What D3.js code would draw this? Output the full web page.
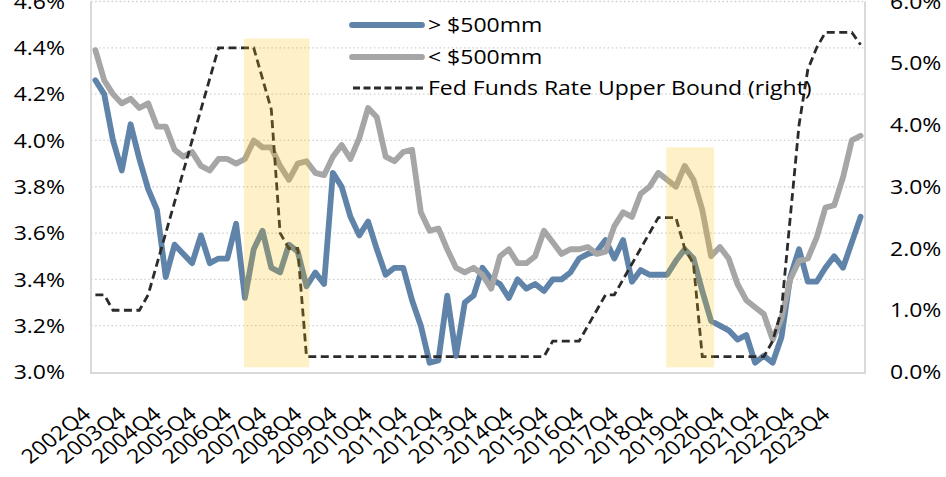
<!DOCTYPE html>
<html>
<head>
<meta charset="utf-8">
<script src="https://cdn.jsdelivr.net/npm/d3@7"></script>
<style>
  body { margin: 0; background: #fff; }
  svg { display: block; font-family: "Open Sans", "Noto Sans", sans-serif; }
</style>
</head>
<body>
<svg id="chart" width="946" height="477"></svg>
<script>
// quarters 2002Q4 .. 2024Q3
var quarters = d3.range(88).map(function(i) {
  var q = (3 + i) % 4 + 1;
  var yr = 2002 + Math.floor((3 + i) / 4);
  return yr + "Q" + q;
});

var big = [4.26, 4.20, 4.00, 3.87, 4.07, 3.92, 3.79, 3.70, 3.41, 3.55,
  3.51, 3.47, 3.59, 3.47, 3.49, 3.49, 3.64, 3.32, 3.53, 3.61,
  3.45, 3.43, 3.55, 3.52, 3.37, 3.43, 3.38, 3.86, 3.80, 3.67,
  3.59, 3.65, 3.53, 3.42, 3.45, 3.45, 3.31, 3.20, 3.04, 3.05,
  3.33, 3.07, 3.30, 3.33, 3.45, 3.40, 3.38, 3.32, 3.40, 3.36,
  3.38, 3.35, 3.40, 3.40, 3.43, 3.49, 3.51, 3.52, 3.57, 3.49,
  3.57, 3.39, 3.44, 3.42, 3.42, 3.42, 3.48, 3.53, 3.49, 3.35,
  3.22, 3.20, 3.18, 3.14, 3.16, 3.04, 3.07, 3.04, 3.15, 3.41,
  3.53, 3.39, 3.39, 3.45, 3.50, 3.45, 3.56, 3.67];

var small = [4.39, 4.26, 4.20, 4.16, 4.18, 4.14, 4.16, 4.06, 4.06, 3.96,
  3.93, 3.95, 3.89, 3.87, 3.92, 3.92, 3.90, 3.92, 4.00, 3.97,
  3.97, 3.89, 3.83, 3.90, 3.91, 3.86, 3.85, 3.93, 3.98, 3.92,
  4.01, 4.14, 4.10, 3.93, 3.91, 3.95, 3.96, 3.69, 3.61, 3.62,
  3.53, 3.45, 3.43, 3.45, 3.42, 3.36, 3.50, 3.53, 3.47, 3.47,
  3.50, 3.61, 3.56, 3.51, 3.53, 3.53, 3.54, 3.51, 3.52, 3.63,
  3.69, 3.67, 3.77, 3.80, 3.86, 3.83, 3.80, 3.89, 3.83, 3.70,
  3.50, 3.54, 3.49, 3.38, 3.31, 3.28, 3.25, 3.14, 3.23, 3.40,
  3.48, 3.49, 3.58, 3.71, 3.72, 3.84, 4.00, 4.02];

var fed = [1.25, 1.25, 1.0, 1.0, 1.0, 1.0, 1.25, 1.75, 2.25, 2.75,
  3.25, 3.75, 4.25, 4.75, 5.25, 5.25, 5.25, 5.25, 5.25, 4.75,
  4.25, 2.25, 2.0, 2.0, 0.25, 0.25, 0.25, 0.25, 0.25, 0.25,
  0.25, 0.25, 0.25, 0.25, 0.25, 0.25, 0.25, 0.25, 0.25, 0.25,
  0.25, 0.25, 0.25, 0.25, 0.25, 0.25, 0.25, 0.25, 0.25, 0.25,
  0.25, 0.25, 0.5, 0.5, 0.5, 0.5, 0.75, 1.0, 1.25, 1.25,
  1.5, 1.75, 2.0, 2.25, 2.5, 2.5, 2.5, 2.0, 1.75, 0.25,
  0.25, 0.25, 0.25, 0.25, 0.25, 0.25, 0.25, 0.5, 1.0, 2.5,
  4.0, 4.9, 5.25, 5.5, 5.5, 5.5, 5.5, 5.3];

// recession shading
var recStart = ["2007Q1", "2019Q1"];
var recEnd = ["2008Q4", "2020Q2"];
var recTop = [4.44, 3.97];

var leftTicks = [3.0, 3.2, 3.4, 3.6, 3.8, 4.0, 4.2, 4.4, 4.6];
var rightTicks = [0, 1, 2, 3, 4, 5, 6];
var xLabels = quarters.filter(function(q) { return q.slice(-2) == "Q4"; });

var legendNames = ["> $500mm", "< $500mm", "Fed Funds Rate Upper Bound (right)"];

var SX = 1.15; // text is a bit wide in the original
var svg = d3.select("#chart");
var L = 91, R = 865, T = 1.5, B = 372;

var x = d3.scalePoint().domain(quarters).range([L, R]).padding(0.5);
var yL = d3.scaleLinear().domain([3.0, 4.6]).range([B, T]);
var yR = d3.scaleLinear().domain([0, 6]).range([B, T]);

// grid
svg.append("g").selectAll("line").data(leftTicks.slice(1)).enter()
  .append("line")
  .attr("x1", L).attr("x2", R)
  .attr("y1", function(d) { return yL(d); })
  .attr("y2", function(d) { return yL(d); })
  .attr("stroke", "#cfcfcf").attr("stroke-width", 1.3)
  .attr("stroke-dasharray", "1.5,2.6");

// frame
svg.append("path")
  .attr("d", "M" + L + "," + T + "V" + (B + 1) + "H" + R + "V" + T)
  .attr("fill", "none").attr("stroke", "#d9d9d9").attr("stroke-width", 2);

var lineL = function(arr) {
  return d3.line().x(function(d, i) { return x(quarters[i]); })
    .y(function(d) { return yL(d); })(arr);
};

svg.append("path").attr("d", lineL(big))
  .attr("fill", "none").attr("stroke", "#6083AA").attr("stroke-width", 5.8)
  .attr("stroke-linejoin", "round").attr("stroke-linecap", "round");

svg.append("path").attr("d", lineL(small))
  .attr("fill", "none").attr("stroke", "#A6A6A6").attr("stroke-width", 5.8)
  .attr("stroke-linejoin", "round").attr("stroke-linecap", "round");

var fedLine = d3.line().x(function(d, i) { return x(quarters[i]); })
  .y(function(d) { return yR(d); });
svg.append("path").attr("d", fedLine(fed))
  .attr("fill", "none").attr("stroke", "#2b2b2b").attr("stroke-width", 2.8)
  .attr("stroke-dasharray", "8,4.5");

// shading on top, see-through
svg.append("g").selectAll("rect").data(recStart).enter()
  .append("rect")
  .attr("x", function(d) { return x(d) - 1; })
  .attr("width", function(d, i) { return x(recEnd[i]) - x(d) + 4; })
  .attr("y", function(d, i) { return yL(recTop[i]); })
  .attr("height", function(d, i) { return yL(3.02) - yL(recTop[i]); })
  .attr("fill", "#FFC000").attr("opacity", 0.22);

// left axis labels
svg.append("g").selectAll("text").data(leftTicks).enter()
  .append("text")
  .attr("transform", function(d) { return "translate(65," + yL(d) + ") scale(" + SX + ",1)"; })
  .attr("text-anchor", "end").attr("dy", "0.36em")
  .attr("font-size", 20).attr("fill", "#000")
  .text(function(d) { return d.toFixed(1) + "%"; });

// right axis labels
svg.append("g").selectAll("text").data(rightTicks).enter()
  .append("text")
  .attr("transform", function(d) { return "translate(890," + yR(d) + ") scale(" + SX + ",1)"; })
  .attr("dy", "0.36em")
  .attr("font-size", 20).attr("fill", "#000")
  .text(function(d) { return d.toFixed(1) + "%"; });

// x labels
svg.append("g").selectAll("text").data(xLabels).enter()
  .append("text")
  .attr("transform", function(d) {
    return "translate(" + (x(d) - 3) + ",416) scale(" + SX + ",1) rotate(-42)";
  })
  .attr("text-anchor", "end")
  .attr("font-size", 20).attr("fill", "#000")
  .text(function(d) { return d; });

// legend
var legY = [25, 57, 88];
var leg = svg.append("g");
leg.append("line").attr("x1", 352).attr("x2", 422).attr("y1", legY[0]).attr("y2", legY[0])
  .attr("stroke", "#6083AA").attr("stroke-width", 5.8).attr("stroke-linecap", "round");
leg.append("line").attr("x1", 352).attr("x2", 422).attr("y1", legY[1]).attr("y2", legY[1])
  .attr("stroke", "#A6A6A6").attr("stroke-width", 5.8).attr("stroke-linecap", "round");
leg.append("line").attr("x1", 353).attr("x2", 423).attr("y1", legY[2]).attr("y2", legY[2])
  .attr("stroke", "#2b2b2b").attr("stroke-width", 2.8).attr("stroke-dasharray", "7,3.5");
leg.selectAll("text").data(legendNames).enter()
  .append("text")
  .attr("transform", function(d, i) { return "translate(428," + legY[i] + ") scale(" + SX + ",1)"; })
  .attr("dy", "0.36em")
  .attr("font-size", 20).attr("fill", "#000")
  .text(function(d) { return d; });
</script>
</body>
</html>
